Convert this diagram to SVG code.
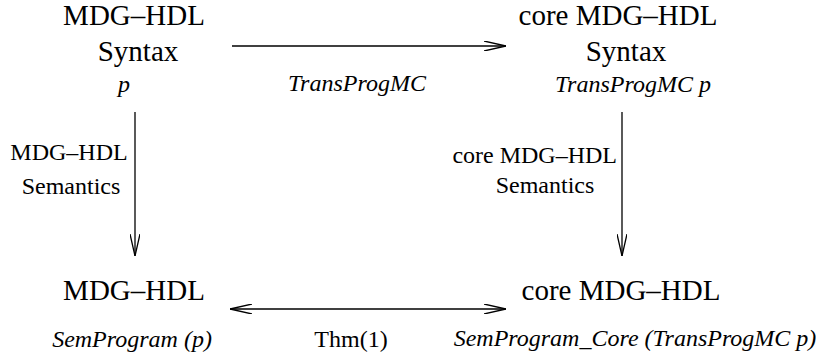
<svg xmlns="http://www.w3.org/2000/svg" width="816" height="358" viewBox="0 0 816 358">
<style>
text { fill: #000; font-family: "Liberation Serif", "Times New Roman", serif; }
.big { font-size: 29px; }
.small { font-size: 24px; }
.it { font-style: italic; font-size: 24px; }
.c { text-anchor: middle; }
.conn { stroke: #000; stroke-width: 1.3; fill: none; }
</style>
<defs>
<marker id="head" viewBox="0 0 22 10" refX="22" refY="5" markerWidth="22" markerHeight="10" markerUnits="userSpaceOnUse" orient="auto-start-reverse">
<path d="M0,0 L22,5 L0,10" fill="none" stroke="#000" stroke-width="1.3"/>
</marker>
</defs>
<rect width="816" height="358" fill="#fff"/>
<g id="connectors">
<line class="conn" x1="232" y1="46" x2="506" y2="46" marker-end="url(#head)"/>
<line class="conn" x1="135" y1="112" x2="135" y2="256" marker-end="url(#head)"/>
<line class="conn" x1="622" y1="112" x2="622" y2="256" marker-end="url(#head)"/>
<line class="conn" x1="230" y1="309" x2="506" y2="309" marker-start="url(#head)" marker-end="url(#head)"/>
<text class="it c" x="357" y="91">TransProgMC</text>
<text class="small c" x="69" y="160">MDG–HDL</text>
<text class="small c" x="71" y="194">Semantics</text>
<text class="small" x="617" y="163" text-anchor="end">core MDG–HDL</text>
<text class="small c" x="545" y="193">Semantics</text>
<text class="small c" x="351" y="347">Thm(1)</text>
</g>
<g id="node-mdg-syntax">
<text class="big c" x="134" y="25">MDG–HDL</text>
<text class="big c" x="138" y="61">Syntax</text>
<text class="it c" x="124" y="92">p</text>
</g>
<g id="node-core-syntax">
<text class="big c" x="618" y="25">core MDG–HDL</text>
<text class="big c" x="626" y="61">Syntax</text>
<text class="it c" x="633" y="92">TransProgMC p</text>
</g>
<g id="node-mdg-sem">
<text class="big c" x="134" y="300">MDG–HDL</text>
<text class="it c" x="132" y="347">SemProgram (p)</text>
</g>
<g id="node-core-sem">
<text class="big c" x="621" y="300">core MDG–HDL</text>
<text class="it c" x="635" y="346">SemProgram_Core (TransProgMC p)</text>
</g>
</svg>
